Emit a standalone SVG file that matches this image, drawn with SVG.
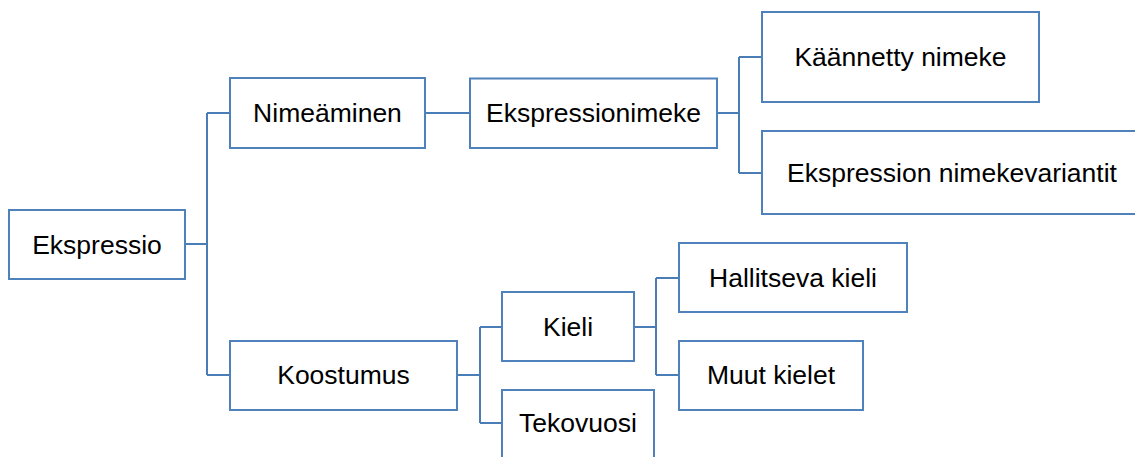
<svg xmlns="http://www.w3.org/2000/svg" width="1135" height="457" viewBox="0 0 1135 457">
<style>
.box{fill:#ffffff;stroke:#4f81bd;stroke-width:2}
.lbl{font-family:"Liberation Sans",Arial,sans-serif;font-size:26.5px;fill:#000000;text-anchor:middle}
.con{fill:none;stroke:#4a7db5;stroke-width:2}
</style>
<rect width="1135" height="457" fill="#ffffff"/>
<g id="connectors">
<path class="con" d="M185,244 H207 M207,113 V375 M207,113 H230 M207,375 H230"/>
<path class="con" d="M425,113 H470"/>
<path class="con" d="M717,113 H739 M739,57 V173 M739,57 H762 M739,173 H762"/>
<path class="con" d="M457,375 H480 M480,327 V423 M480,327 H502 M480,423 H502"/>
<path class="con" d="M634,327 H656 M656,278 V375 M656,278 H679 M656,375 H679"/>
</g>
<g id="ekspressio"><rect class="box" x="9" y="210" width="176" height="69"/><text class="lbl" x="97" y="253.5">Ekspressio</text></g>
<g id="nimeaminen"><rect class="box" x="230" y="78" width="195" height="70"/><text class="lbl" x="327.5" y="122">Nimeäminen</text></g>
<g id="ekspressionimeke"><rect class="box" x="470" y="78.5" width="247" height="69.5"/><text class="lbl" x="593.5" y="122">Ekspressionimeke</text></g>
<g id="kaannetty-nimeke"><rect class="box" x="762" y="12" width="277" height="90"/><text class="lbl" x="900.5" y="66">Käännetty nimeke</text></g>
<g id="nimekevariantit"><rect class="box" x="762" y="131" width="400" height="83"/><text class="lbl" x="952" y="182">Ekspression nimekevariantit</text></g>
<g id="koostumus"><rect class="box" x="230" y="341" width="227" height="69"/><text class="lbl" x="343.5" y="384">Koostumus</text></g>
<g id="kieli"><rect class="box" x="502" y="292" width="132" height="69"/><text class="lbl" x="568" y="335.5">Kieli</text></g>
<g id="tekovuosi"><rect class="box" x="502" y="390" width="152" height="69"/><text class="lbl" x="578" y="432">Tekovuosi</text></g>
<g id="hallitseva-kieli"><rect class="box" x="679" y="243" width="228" height="69"/><text class="lbl" x="793" y="286.5">Hallitseva kieli</text></g>
<g id="muut-kielet"><rect class="box" x="679" y="341" width="184" height="69"/><text class="lbl" x="771" y="384">Muut kielet</text></g>
</svg>
